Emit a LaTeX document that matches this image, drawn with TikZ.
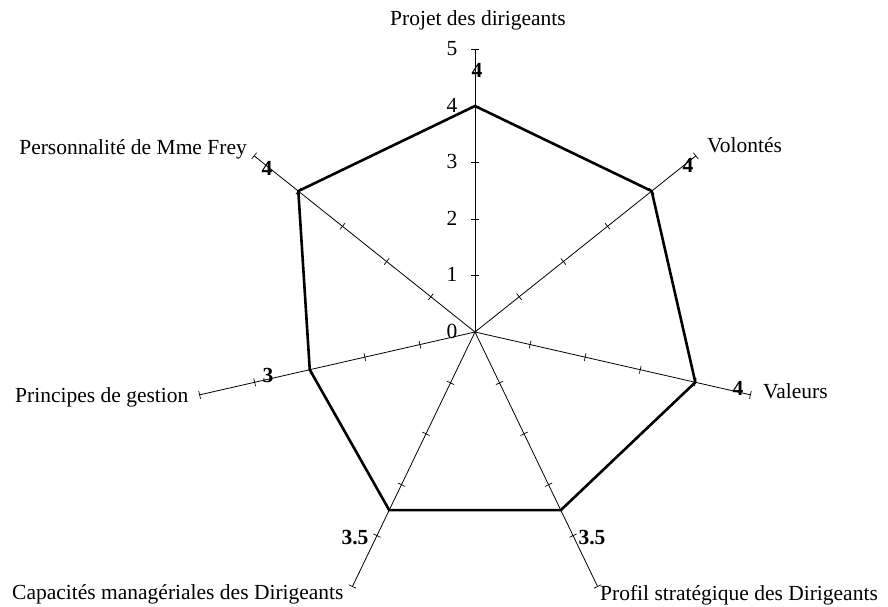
\documentclass[tikz,border=0pt]{standalone}
\usepackage{fontspec}
\setmainfont{Liberation Serif}
\usetikzlibrary{calc}
\begin{document}
\begin{tikzpicture}[x=1pt,y=1pt,
  axisline/.style={line width=0.8pt},
  tickmark/.style={line width=0.7pt},
  profile/.style={line width=2.6pt, line join=miter},
  axislabel/.style={font=\fontsize{21.5}{24}\selectfont, inner sep=0pt},
  valuelabel/.style={font=\fontsize{21.5}{24}\selectfont\bfseries, inner sep=0pt},
  scalelabel/.style={font=\fontsize{21.5}{24}\selectfont, inner sep=0pt}]
\useasboundingbox (0,0) rectangle (888,607);
\def\unitlen{56.5}
\coordinate (O) at (475,275);

% axes with their unit ticks, and the points of the profile
\foreach \k/\v in {0/4,1/4,2/4,3/3.5,4/3.5,5/3,6/4} {
  \pgfmathsetmacro\ang{90-\k*360/7}
  \coordinate (e\k) at ($(O)+(\ang:5*\unitlen)$);
  \coordinate (v\k) at ($(O)+(\ang:\v*\unitlen)$);
  \draw[axisline] (O) -- (e\k);
  \begin{scope}[shift={(O)}, rotate=\ang]
    \foreach \i in {1,...,5}
      \draw[tickmark] (\i*\unitlen,-4) -- (\i*\unitlen,4);
  \end{scope}
}

% profile
\draw[profile] (v0) -- (v1) -- (v2) -- (v3) -- (v4) -- (v5) -- (v6) -- cycle;

% scale on the first axis
\foreach \i in {0,...,5}
  \node[scalelabel] (s\i) at (452,{275+\i*\unitlen+1}) {\i};

% values
\node[valuelabel] (d0) at (477,537) {4};
\node[valuelabel] (d1) at (688,442) {4};
\node[valuelabel] (d2) at (738,219) {4};
\node[valuelabel] (d3) at (592,69) {3.5};
\node[valuelabel] (d4) at (355,69) {3.5};
\node[valuelabel] (d5) at (268,232) {3};
\node[valuelabel] (d6) at (267,439) {4};

% axis names
\node[axislabel, anchor=base] (l0) at (478,581) {Projet des dirigeants};
\node[axislabel, anchor=base west] (l1) at (707,454) {Volontés};
\node[axislabel, anchor=base west] (l2) at (763,208) {Valeurs};
\node[axislabel, anchor=base west] (l3) at (600,6) {Profil stratégique des Dirigeants};
\node[axislabel, anchor=base west] (l4) at (12,7) {Capacités managériales des Dirigeants};
\node[axislabel, anchor=base west] (l5) at (15,204) {Principes de gestion};
\node[axislabel, anchor=base east] (l6) at (247,452) {Personnalité de Mme Frey};
\end{tikzpicture}
\end{document}
